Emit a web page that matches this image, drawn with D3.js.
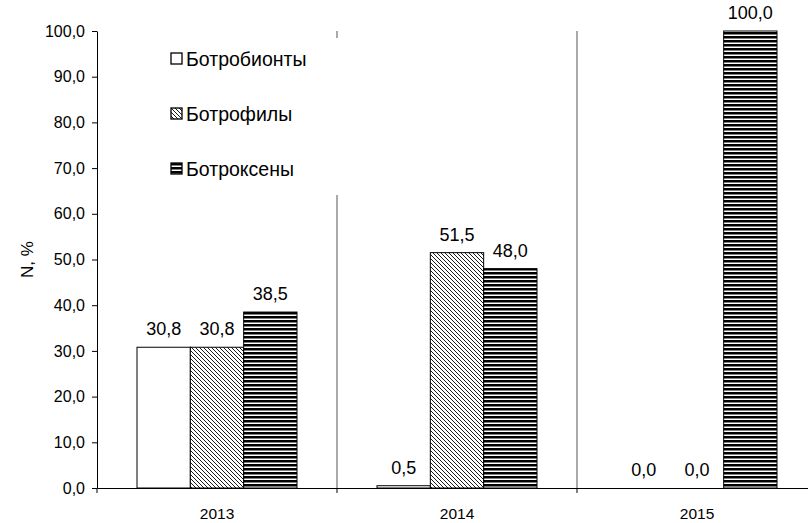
<!DOCTYPE html>
<html>
<head>
<meta charset="utf-8">
<script src="https://cdn.jsdelivr.net/npm/d3@7"></script>
<style>
    body { margin: 0; background: #fff; }
    svg { display: block; font-family: "Liberation Sans", Arial, sans-serif; }
</style>
</head>
<body>
<div id="container"></div>
<script>
// Chart data
const years = ["2013", "2014", "2015"];
const seriesNames = ["Ботробионты", "Ботрофилы", "Ботроксены"];
const botrobionty = [30.8, 0.5, 0.0];
const botrofily = [30.8, 51.5, 0.0];
const botrokseny = [38.5, 48.0, 100.0];
const yTicks = [0, 10, 20, 30, 40, 50, 60, 70, 80, 90, 100];

const seriesValues = [botrobionty, botrofily, botrokseny];

const width = 808;
const height = 523;
const marginTop = 31;
const marginBottom = 35;
const marginLeft = 97;

const fmt = v => v.toFixed(1).replace(".", ",");

const svg = d3.select("#container").append("svg")
    .attr("width", width)
    .attr("height", height);

// Fill patterns
const defs = svg.append("defs");
const stripes = defs.append("pattern")
    .attr("id", "stripes")
    .attr("patternUnits", "userSpaceOnUse")
    .attr("width", 8).attr("height", 4);
stripes.append("rect").attr("width", 8).attr("height", 4).attr("fill", "#fff");
stripes.append("rect").attr("y", 0).attr("width", 8).attr("height", 2.5).attr("fill", "#000");

const hatch = defs.append("pattern")
    .attr("id", "hatch")
    .attr("patternUnits", "userSpaceOnUse")
    .attr("width", 4).attr("height", 4);
hatch.append("rect").attr("width", 4).attr("height", 4).attr("fill", "#fff");
hatch.append("path")
    .attr("d", "M-1,-1 L5,5 M-1,3 L1,5 M3,-1 L5,1")
    .attr("stroke", "#000").attr("stroke-width", 0.9);

const fills = ["#fff", "url(#hatch)", "url(#stripes)"];

// Scales
const x = d3.scaleBand()
    .domain(years)
    .range([marginLeft, marginLeft + 3 * 240]);

const x1 = d3.scaleBand()
    .domain(d3.range(3))
    .range([40, 200]);

const y = d3.scaleLinear()
    .domain([0, 100])
    .range([height - marginBottom, marginTop]);

// Group separators
svg.append("g")
    .selectAll("line")
    .data(years.slice(1))
    .join("line")
    .attr("x1", d => x(d)).attr("x2", d => x(d))
    .attr("y1", y(100)).attr("y2", y(0))
    .attr("stroke", "#555").attr("stroke-width", 1);

// Bars
const rows = [];
years.forEach((yr, i) => {
    seriesValues.forEach((vals, s) => rows.push({ yr, s, v: vals[i] }));
});

svg.append("g")
    .selectAll("rect")
    .data(rows.filter(r => r.v > 0))
    .join("rect")
    .attr("x", r => x(r.yr) + x1(r.s))
    .attr("y", r => y(r.v))
    .attr("width", x1.bandwidth())
    .attr("height", r => y(0) - y(r.v))
    .attr("fill", r => fills[r.s])
    .attr("stroke", "#000")
    .attr("stroke-width", 1);

// Value labels
svg.append("g")
    .selectAll("text")
    .data(rows)
    .join("text")
    .attr("x", r => x(r.yr) + x1(r.s) + x1.bandwidth() / 2)
    .attr("y", r => y(r.v) - 12)
    .attr("text-anchor", "middle")
    .attr("font-size", 18)
    .text(r => fmt(r.v));

// Legend (white box covers the divider)
const legend = svg.append("g").attr("transform", "translate(160,38)");
legend.append("rect")
    .attr("width", 185).attr("height", 157)
    .attr("fill", "#fff");
seriesNames.forEach((name, i) => {
    const g = legend.append("g").attr("transform", `translate(11,${15 + i * 55})`);
    g.append("rect")
        .attr("width", 11).attr("height", 11)
        .attr("fill", fills[i]).attr("stroke", "#000").attr("stroke-width", 1.3);
    g.append("text")
        .attr("x", 15).attr("y", 13)
        .attr("font-size", 19.5)
        .text(name);
});

// Axes
svg.append("g")
    .attr("transform", `translate(${marginLeft},0)`)
    .call(d3.axisLeft(y).tickValues(yTicks).tickFormat(fmt).tickSize(5).tickSizeOuter(0))
    .call(g => g.selectAll("text").attr("font-size", 16).attr("fill", "#000").attr("dx", -4))
    .call(g => g.selectAll("line, path").attr("stroke", "#000"));

svg.append("g")
    .attr("transform", `translate(0,${y(0)})`)
    .call(d3.axisBottom(x).tickSize(0).tickSizeOuter(0))
    .call(g => g.select(".domain").attr("stroke", "#000"))
    .call(g => g.selectAll("text").attr("font-size", 15.5).attr("fill", "#000")
        .attr("y", 31).attr("dy", null));

// Category boundary ticks
svg.append("g")
    .selectAll("line")
    .data(years)
    .join("line")
    .attr("x1", d => x(d)).attr("x2", d => x(d))
    .attr("y1", y(0)).attr("y2", y(0) + 5)
    .attr("stroke", "#000");

svg.append("text")
    .attr("transform", `translate(33,${(y(0) + y(100)) / 2}) rotate(-90)`)
    .attr("text-anchor", "middle")
    .attr("font-size", 17)
    .text("N, %");
</script>
</body>
</html>
